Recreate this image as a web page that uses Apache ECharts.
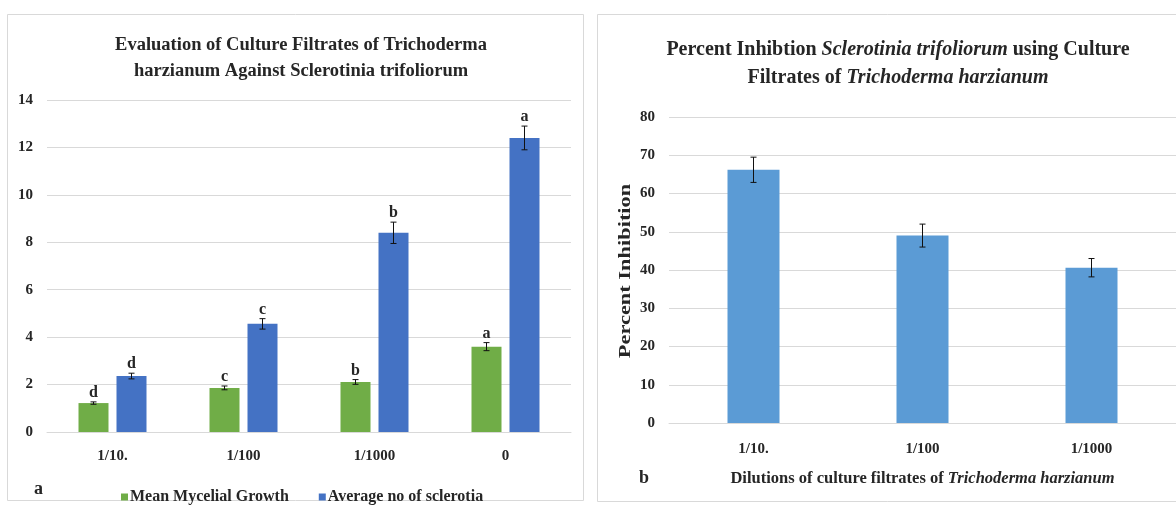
<!DOCTYPE html>
<html><head><meta charset="utf-8">
<script src="https://cdn.jsdelivr.net/npm/echarts/dist/echarts.min.js"></script>
<style>html,body{margin:0;padding:0;background:#fff}#c{width:1176px;height:508px}</style>
</head><body><div id="c"></div>
<script>
// ---- Panel a data ----
const catsA = ['1/10.', '1/100', '1/1000', '0'];
const mycelial = [1.22, 1.86, 2.11, 3.6];
const mycelialErr = [0.05, 0.08, 0.1, 0.17];
const mycelialLetters = ['d', 'c', 'b', 'a'];
const sclerotia = [2.36, 4.56, 8.4, 12.4];
const sclerotiaErr = [0.12, 0.22, 0.45, 0.5];
const sclerotiaLetters = ['d', 'c', 'b', 'a'];
// ---- Panel b data ----
const catsB = ['1/10.', '1/100', '1/1000'];
const inhibition = [66.2, 49, 40.6];
const inhibitionErr = [3.3, 3, 2.4];

const SERIF = '"Liberation Serif", "Times New Roman", serif';
const TXT = '#262626';
const GRIDC = '#d9d9d9';
const BAR_W = 30, GAP_PX = 8;

function errRender(offset, letters) {
  return function (params, api) {
    const i = api.value(0), v = api.value(1), e = api.value(2);
    const t = api.coord([i, v + e]), b = api.coord([i, v - e]);
    const x = t[0] + offset, cap = 3;
    const st = { stroke: '#111', lineWidth: 1 };
    const ch = [
      { type: 'line', shape: { x1: x, y1: t[1], x2: x, y2: b[1] }, style: st },
      { type: 'line', shape: { x1: x - cap, y1: t[1], x2: x + cap, y2: t[1] }, style: st },
      { type: 'line', shape: { x1: x - cap, y1: b[1], x2: x + cap, y2: b[1] }, style: st }
    ];
    if (letters) {
      ch.push({ type: 'text', x: x, y: t[1] - 1, style: { text: letters[i], align: 'center', verticalAlign: 'bottom', font: 'bold 16px ' + SERIF, fill: TXT } });
    }
    return { type: 'group', children: ch };
  };
}
const errData = (vals, errs) => vals.map((v, i) => [i, v, errs[i]]);
const off = (BAR_W + GAP_PX) / 2;

const chart = echarts.init(document.getElementById('c'), null, { renderer: 'canvas' });
chart.setOption({
  animation: false,
  backgroundColor: '#fff',
  textStyle: { fontFamily: SERIF },
  title: [
    { text: 'Evaluation of Culture Filtrates of Trichoderma\nharzianum Against Sclerotinia trifoliorum',
      left: 296, top: 27, textAlign: 'center',
      textStyle: { fontFamily: SERIF, fontWeight: 'bold', fontSize: 18.5, lineHeight: 26, color: TXT } },
    { text: 'Percent Inhibtion {i|Sclerotinia trifoliorum} using Culture\nFiltrates of {i|Trichoderma harzianum}',
      left: 893, top: 31, textAlign: 'center',
      textStyle: { fontFamily: SERIF, fontWeight: 'bold', fontSize: 20, lineHeight: 28, color: TXT,
        rich: { i: { fontFamily: SERIF, fontWeight: 'bold', fontStyle: 'italic', fontSize: 20, lineHeight: 28, color: TXT } } } }
  ],
  legend: {
    data: ['Mean Mycelial Growth', 'Average no of sclerotia'],
    left: 116, top: 484, icon: 'rect', itemWidth: 7, itemHeight: 7, itemGap: 30,
    textStyle: { fontFamily: SERIF, fontWeight: 'bold', fontSize: 16, color: TXT, padding: [0, 0, 0, -3] }
  },
  grid: [
    { left: 47, top: 100, width: 524, height: 332 },
    { left: 669, top: 117, width: 507, height: 306 }
  ],
  xAxis: [
    { type: 'category', gridIndex: 0, data: catsA,
      axisTick: { show: false }, axisLine: { lineStyle: { color: GRIDC } },
      axisLabel: { margin: 17, fontFamily: SERIF, fontWeight: 'bold', fontSize: 15, color: TXT } },
    { type: 'category', gridIndex: 1, data: catsB,
      axisTick: { show: false }, axisLine: { lineStyle: { color: GRIDC } },
      axisLabel: { margin: 19, fontFamily: SERIF, fontWeight: 'bold', fontSize: 15, color: TXT },
      name: 'Dilutions of culture filtrates of {i|Trichoderma harzianum}', nameLocation: 'middle', nameGap: 47,
      nameTextStyle: { fontFamily: SERIF, fontWeight: 'bold', fontSize: 16.5, color: TXT,
        rich: { i: { fontFamily: SERIF, fontWeight: 'bold', fontStyle: 'italic', fontSize: 16.5, color: TXT } } } }
  ],
  yAxis: [
    { type: 'value', gridIndex: 0, min: 0, max: 14, interval: 2,
      axisLine: { show: false }, axisTick: { show: false },
      splitLine: { lineStyle: { color: GRIDC } },
      axisLabel: { margin: 14, fontFamily: SERIF, fontWeight: 'bold', fontSize: 15, color: TXT } },
    { type: 'value', gridIndex: 1, min: 0, max: 80, interval: 10,
      axisLine: { show: false }, axisTick: { show: false },
      splitLine: { lineStyle: { color: GRIDC } },
      axisLabel: { margin: 14, fontFamily: SERIF, fontWeight: 'bold', fontSize: 15, color: TXT } }
  ],
  series: [
    { name: 'Mean Mycelial Growth', type: 'bar', xAxisIndex: 0, yAxisIndex: 0, data: mycelial,
      barWidth: BAR_W, barGap: (GAP_PX / BAR_W * 100) + '%', itemStyle: { color: '#70AD47' } },
    { name: 'Average no of sclerotia', type: 'bar', xAxisIndex: 0, yAxisIndex: 0, data: sclerotia,
      barWidth: BAR_W, itemStyle: { color: '#4472C4' } },
    { type: 'custom', xAxisIndex: 0, yAxisIndex: 0, data: errData(mycelial, mycelialErr),
      renderItem: errRender(-off, mycelialLetters), encode: { x: 0, y: 1 }, z: 5, silent: true },
    { type: 'custom', xAxisIndex: 0, yAxisIndex: 0, data: errData(sclerotia, sclerotiaErr),
      renderItem: errRender(off, sclerotiaLetters), encode: { x: 0, y: 1 }, z: 5, silent: true },
    { name: 'Percent Inhibition', type: 'bar', xAxisIndex: 1, yAxisIndex: 1, data: inhibition,
      barWidth: 52, itemStyle: { color: '#5B9BD5' } },
    { type: 'custom', xAxisIndex: 1, yAxisIndex: 1, data: errData(inhibition, inhibitionErr),
      renderItem: errRender(0, null), encode: { x: 0, y: 1 }, z: 5, silent: true }
  ],
  graphic: [
    { type: 'rect', shape: { x: 7.5, y: 14.5, width: 576, height: 486 }, style: { fill: 'none', stroke: '#d9d9d9', lineWidth: 1 }, silent: true, z: -1 },
    { type: 'rect', shape: { x: 597.5, y: 14.5, width: 600, height: 487 }, style: { fill: 'none', stroke: '#d9d9d9', lineWidth: 1 }, silent: true, z: -1 },
    { type: 'text', left: 34, top: 480, style: { text: 'a', font: 'bold 18px ' + SERIF, fill: TXT } },
    { type: 'text', left: 639, top: 469, style: { text: 'b', font: 'bold 18px ' + SERIF, fill: TXT } },
    { type: 'text', x: 626, y: 271, rotation: Math.PI / 2, scaleX: 1.4,
      style: { text: 'Percent Inhibition', align: 'center', verticalAlign: 'middle', font: 'bold 16px ' + SERIF, fill: TXT } }
  ]
});
</script></body></html>
